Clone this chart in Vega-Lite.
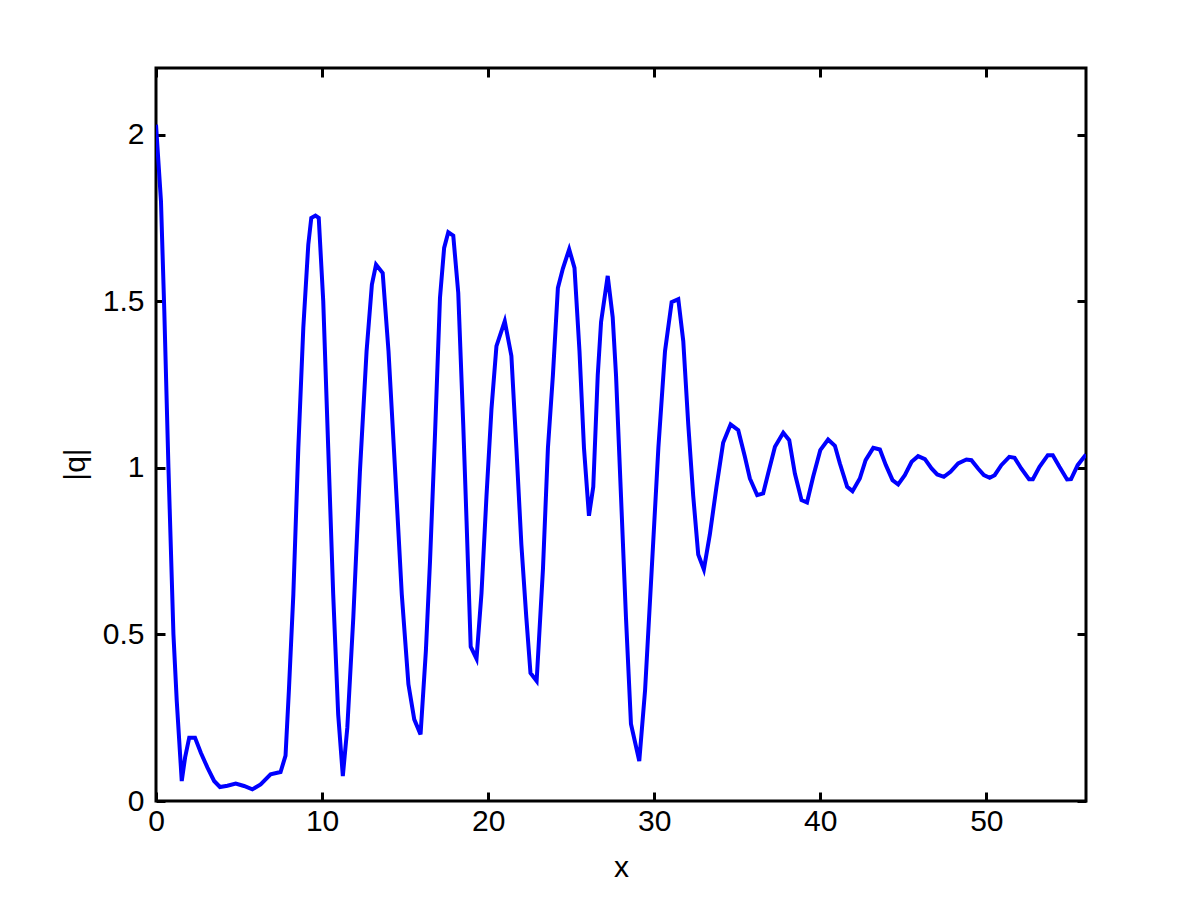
{
  "$schema": "https://vega.github.io/schema/vega-lite/v6.json",
  "width": 930,
  "height": 733,
  "autosize": "none",
  "padding": {"left": 156, "top": 68, "right": 114, "bottom": 99},
  "background": "white",
  "config": {
    "view": {"stroke": "black", "strokeWidth": 3},
    "font": "Liberation Sans",
    "axis": {
      "domain": false,
      "grid": false,
      "tickColor": "black",
      "tickSize": -9,
      "tickWidth": 3,
      "labelFont": "Liberation Sans",
      "labelFontSize": 30,
      "labelColor": "black",
      "titleFont": "Liberation Sans",
      "titleFontSize": 30,
      "titleFontWeight": "normal",
      "titleColor": "black"
    }
  },
  "data": {"values": [
    {"x": 0, "q": 2.03}, {"x": 0.3, "q": 1.8}, {"x": 0.5, "q": 1.47}, {"x": 0.75, "q": 1.0},
    {"x": 1.05, "q": 0.5}, {"x": 1.25, "q": 0.3}, {"x": 1.55, "q": 0.06}, {"x": 1.75, "q": 0.13},
    {"x": 2.0, "q": 0.19}, {"x": 2.35, "q": 0.19}, {"x": 2.7, "q": 0.145}, {"x": 3.1, "q": 0.1},
    {"x": 3.5, "q": 0.06}, {"x": 3.85, "q": 0.042}, {"x": 4.3, "q": 0.046}, {"x": 4.8, "q": 0.052},
    {"x": 5.3, "q": 0.045}, {"x": 5.8, "q": 0.035}, {"x": 6.3, "q": 0.05}, {"x": 6.9, "q": 0.08},
    {"x": 7.5, "q": 0.087}, {"x": 7.8, "q": 0.136}, {"x": 8.0, "q": 0.33}, {"x": 8.27, "q": 0.62},
    {"x": 8.57, "q": 1.06}, {"x": 8.87, "q": 1.42}, {"x": 9.17, "q": 1.67}, {"x": 9.35, "q": 1.75},
    {"x": 9.6, "q": 1.757}, {"x": 9.8, "q": 1.75}, {"x": 10.07, "q": 1.5}, {"x": 10.37, "q": 1.06},
    {"x": 10.67, "q": 0.62}, {"x": 10.97, "q": 0.26}, {"x": 11.25, "q": 0.075}, {"x": 11.52, "q": 0.22},
    {"x": 11.88, "q": 0.55}, {"x": 12.28, "q": 0.99}, {"x": 12.68, "q": 1.35}, {"x": 13.0, "q": 1.55},
    {"x": 13.25, "q": 1.61}, {"x": 13.65, "q": 1.585}, {"x": 14.0, "q": 1.35}, {"x": 14.4, "q": 0.99},
    {"x": 14.8, "q": 0.62}, {"x": 15.2, "q": 0.35}, {"x": 15.55, "q": 0.245}, {"x": 15.93, "q": 0.2},
    {"x": 16.25, "q": 0.45}, {"x": 16.5, "q": 0.72}, {"x": 16.8, "q": 1.1}, {"x": 17.1, "q": 1.51},
    {"x": 17.35, "q": 1.66}, {"x": 17.6, "q": 1.707}, {"x": 17.9, "q": 1.697}, {"x": 18.2, "q": 1.525},
    {"x": 18.5, "q": 1.13}, {"x": 18.7, "q": 0.84}, {"x": 18.95, "q": 0.463}, {"x": 19.3, "q": 0.427},
    {"x": 19.6, "q": 0.624}, {"x": 19.9, "q": 0.915}, {"x": 20.2, "q": 1.176}, {"x": 20.5, "q": 1.365},
    {"x": 21.0, "q": 1.44}, {"x": 21.4, "q": 1.336}, {"x": 21.7, "q": 1.06}, {"x": 22.0, "q": 0.77},
    {"x": 22.3, "q": 0.55}, {"x": 22.55, "q": 0.384}, {"x": 22.92, "q": 0.36}, {"x": 23.3, "q": 0.695},
    {"x": 23.6, "q": 1.06}, {"x": 23.9, "q": 1.278}, {"x": 24.2, "q": 1.54}, {"x": 24.5, "q": 1.598},
    {"x": 24.88, "q": 1.656}, {"x": 25.2, "q": 1.6}, {"x": 25.5, "q": 1.35}, {"x": 25.77, "q": 1.06},
    {"x": 26.07, "q": 0.856}, {"x": 26.33, "q": 0.943}, {"x": 26.6, "q": 1.278}, {"x": 26.8, "q": 1.438},
    {"x": 27.2, "q": 1.576}, {"x": 27.5, "q": 1.452}, {"x": 27.7, "q": 1.278}, {"x": 28.0, "q": 0.915},
    {"x": 28.3, "q": 0.55}, {"x": 28.6, "q": 0.231}, {"x": 29.1, "q": 0.12}, {"x": 29.45, "q": 0.333},
    {"x": 29.85, "q": 0.695}, {"x": 30.25, "q": 1.06}, {"x": 30.65, "q": 1.35}, {"x": 31.05, "q": 1.497},
    {"x": 31.45, "q": 1.506}, {"x": 31.75, "q": 1.38}, {"x": 32.05, "q": 1.13}, {"x": 32.35, "q": 0.915},
    {"x": 32.65, "q": 0.74}, {"x": 32.99, "q": 0.695}, {"x": 33.35, "q": 0.8}, {"x": 33.75, "q": 0.943},
    {"x": 34.15, "q": 1.075}, {"x": 34.6, "q": 1.13}, {"x": 35.06, "q": 1.113}, {"x": 35.46, "q": 1.033},
    {"x": 35.76, "q": 0.968}, {"x": 36.2, "q": 0.918}, {"x": 36.56, "q": 0.923}, {"x": 36.86, "q": 0.983},
    {"x": 37.27, "q": 1.063}, {"x": 37.77, "q": 1.105}, {"x": 38.13, "q": 1.083}, {"x": 38.47, "q": 0.983},
    {"x": 38.87, "q": 0.903}, {"x": 39.2, "q": 0.896}, {"x": 39.57, "q": 0.973}, {"x": 40.0, "q": 1.053},
    {"x": 40.47, "q": 1.085}, {"x": 40.88, "q": 1.066}, {"x": 41.18, "q": 1.013}, {"x": 41.62, "q": 0.943},
    {"x": 41.94, "q": 0.93}, {"x": 42.38, "q": 0.968}, {"x": 42.73, "q": 1.023}, {"x": 43.19, "q": 1.06},
    {"x": 43.59, "q": 1.055}, {"x": 43.95, "q": 1.008}, {"x": 44.35, "q": 0.963}, {"x": 44.69, "q": 0.95},
    {"x": 45.09, "q": 0.978}, {"x": 45.5, "q": 1.018}, {"x": 45.89, "q": 1.035}, {"x": 46.3, "q": 1.026},
    {"x": 46.7, "q": 0.998}, {"x": 47.04, "q": 0.98}, {"x": 47.44, "q": 0.973}, {"x": 47.84, "q": 0.988},
    {"x": 48.3, "q": 1.013}, {"x": 48.8, "q": 1.025}, {"x": 49.1, "q": 1.023}, {"x": 49.5, "q": 0.998},
    {"x": 49.85, "q": 0.978}, {"x": 50.2, "q": 0.97}, {"x": 50.5, "q": 0.978}, {"x": 50.9, "q": 1.008},
    {"x": 51.38, "q": 1.033}, {"x": 51.7, "q": 1.03}, {"x": 52.1, "q": 0.998}, {"x": 52.57, "q": 0.966},
    {"x": 52.8, "q": 0.966}, {"x": 53.2, "q": 1.003}, {"x": 53.7, "q": 1.038}, {"x": 54.0, "q": 1.038},
    {"x": 54.4, "q": 1.003}, {"x": 54.86, "q": 0.965}, {"x": 55.1, "q": 0.966}, {"x": 55.5, "q": 1.008},
    {"x": 56.0, "q": 1.04}
  ]},
  "layer": [
    {
      "mark": {"type": "line", "color": "#0000ff", "strokeWidth": 4, "clip": true},
      "encoding": {
        "x": {"field": "x", "type": "quantitative", "scale": {"domain": [0, 56], "nice": false, "zero": false},
              "axis": {"orient": "bottom", "title": "x", "values": [0, 10, 20, 30, 40, 50], "labelFontSize": 30, "titleFontSize": 30, "labelPadding": 14, "titlePadding": 16, "labelFlush": false}},
        "y": {"field": "q", "type": "quantitative", "scale": {"domain": [0, 2.2], "nice": false, "zero": false},
              "axis": {"orient": "left", "title": "|q|", "titleY": 396, "values": [0, 0.5, 1, 1.5, 2], "labelExpr": "datum.value + ''", "labelFontSize": 30, "titleFontSize": 30, "labelPadding": 21, "titlePadding": 12, "labelFlush": false}}
      }
    },
    {
      "mark": {"type": "line", "opacity": 0},
      "encoding": {
        "x": {"field": "x", "type": "quantitative", "axis": {"orient": "top", "title": null, "labels": false, "values": [0, 10, 20, 30, 40, 50]}},
        "y": {"field": "q", "type": "quantitative", "axis": {"orient": "right", "title": null, "labels": false, "values": [0, 0.5, 1, 1.5, 2]}}
      }
    }
  ],
  "resolve": {"axis": {"x": "independent", "y": "independent"}}
}
